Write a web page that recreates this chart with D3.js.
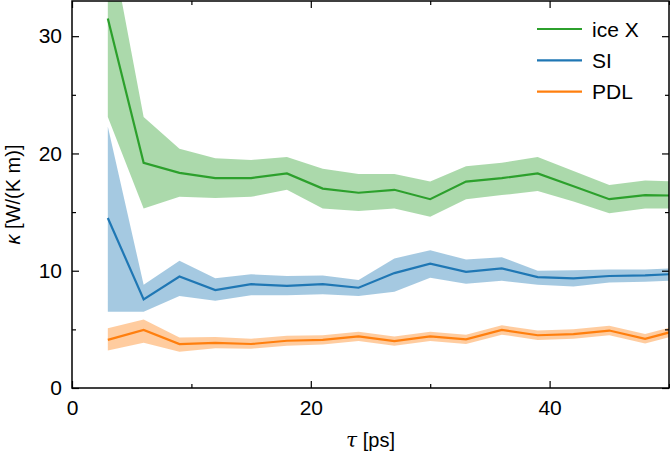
<!DOCTYPE html>
<html>
<head>
<meta charset="utf-8">
<script src="https://cdn.jsdelivr.net/npm/d3@7"></script>
<style>
  body { margin: 0; background: white; }
  text { font-family: "Liberation Sans", Arial, sans-serif; }
</style>
</head>
<body>
<div class="canvas"></div>
<script>
// Data
const tau = [3, 6, 9, 12, 15, 18, 21, 24, 27, 30, 33, 36, 39, 42, 45, 48, 51];

const iceX_mean  = [31.5, 19.2, 18.35, 17.9, 17.9, 18.3, 17.0, 16.65, 16.9, 16.1, 17.6, 17.9, 18.3, 17.2, 16.1, 16.45, 16.4];
const iceX_upper = [39.3, 23.1, 20.4, 19.6, 19.45, 19.7, 18.7, 18.25, 18.25, 17.6, 18.9, 19.2, 19.7, 18.5, 17.3, 17.7, 17.6];
const iceX_lower = [23.1, 15.3, 16.3, 16.2, 16.3, 16.9, 15.3, 15.1, 15.3, 14.6, 16.1, 16.45, 16.8, 15.9, 14.9, 15.3, 15.3];

const SI_mean  = [14.5, 7.55, 9.5, 8.35, 8.85, 8.7, 8.85, 8.55, 9.8, 10.6, 9.9, 10.2, 9.45, 9.35, 9.55, 9.6, 9.75];
const SI_upper = [22.3, 8.8, 10.85, 9.35, 9.7, 9.55, 9.6, 9.2, 11.05, 11.75, 10.95, 11.15, 10.0, 10.05, 10.1, 10.1, 10.25];
const SI_lower = [6.5, 6.5, 7.85, 7.45, 7.9, 7.9, 8.0, 7.85, 8.2, 9.4, 8.9, 9.15, 8.8, 8.65, 9.0, 9.05, 9.2];

const PDL_mean  = [4.1, 4.95, 3.75, 3.85, 3.75, 4.03, 4.1, 4.4, 4.0, 4.4, 4.15, 4.95, 4.5, 4.6, 4.9, 4.2, 5.0];
const PDL_upper = [5.1, 5.85, 4.3, 4.35, 4.2, 4.45, 4.5, 4.8, 4.4, 4.8, 4.55, 5.35, 4.9, 5.0, 5.3, 4.6, 5.4];
const PDL_lower = [3.2, 3.85, 3.1, 3.4, 3.35, 3.6, 3.7, 4.0, 3.6, 4.0, 3.75, 4.55, 4.1, 4.2, 4.5, 3.8, 4.6];

const series_names = ["ice X", "SI", "PDL"];
const series_colors = ["#2ca02c", "#1f77b4", "#ff7f0e"];

const x_major = [0, 20, 40];
const x_minor = [10, 30, 50];
const y_major = [0, 10, 20, 30];
const y_minor = [5, 15, 25];

// Settings
const width = 670;
const height = 455;
const margin = {left: 72, right: 1, top: 1, bottom: 67};
const font_size = 21;

const series = [
  {name: series_names[0], color: series_colors[0], mean: iceX_mean, upper: iceX_upper, lower: iceX_lower},
  {name: series_names[1], color: series_colors[1], mean: SI_mean, upper: SI_upper, lower: SI_lower},
  {name: series_names[2], color: series_colors[2], mean: PDL_mean, upper: PDL_upper, lower: PDL_lower}
];

const svg = d3.select(".canvas").append("svg")
  .attr("width", width)
  .attr("height", height);

var xScale = d3.scaleLinear().domain([0, 50]).range([margin.left, width - margin.right]);
var yScale = d3.scaleLinear().domain([0, 33]).range([height - margin.bottom, margin.top]);

svg.append("defs").append("clipPath")
  .attr("id", "plot-clip")
  .append("rect")
  .attr("x", xScale(0))
  .attr("y", yScale(33))
  .attr("width", xScale(50) - xScale(0))
  .attr("height", yScale(0) - yScale(33));

var g = svg.append("g").attr("clip-path", "url(#plot-clip)");

var areaGen = d3.area()
  .x(d => xScale(d.t))
  .y0(d => yScale(d.lo))
  .y1(d => yScale(d.hi));

var lineGen = d3.line()
  .x(d => xScale(d.t))
  .y(d => yScale(d.v));

series.forEach(function(s) {
  var pts = tau.map((t, i) => ({t: t, v: s.mean[i], lo: s.lower[i], hi: s.upper[i]}));
  g.append("path")
    .attr("d", areaGen(pts))
    .attr("fill", s.color)
    .attr("opacity", 0.4)
    .attr("stroke", "none");
  g.append("path")
    .attr("d", lineGen(pts))
    .attr("fill", "none")
    .attr("stroke", s.color)
    .attr("stroke-width", 2.2);
});

// Axes with inward ticks on all four sides
const major_len = 7;
const minor_len = 4;
const x0 = xScale.range()[0], x1 = xScale.range()[1];
const y0 = yScale.range()[0], y1 = yScale.range()[1];

svg.append("g")
  .attr("transform", "translate(0," + y0 + ")")
  .call(d3.axisBottom(xScale).tickValues(x_major).tickSize(-major_len).tickPadding(12).tickFormat(d3.format("d")))
  .call(a => a.select(".domain").remove());
svg.append("g")
  .attr("transform", "translate(0," + y0 + ")")
  .call(d3.axisBottom(xScale).tickValues(x_minor).tickSize(-minor_len).tickFormat(""))
  .call(a => a.select(".domain").remove());
svg.append("g")
  .attr("transform", "translate(0," + y1 + ")")
  .call(d3.axisTop(xScale).tickValues(x_major).tickSize(-major_len).tickFormat(""))
  .call(a => a.select(".domain").remove());
svg.append("g")
  .attr("transform", "translate(0," + y1 + ")")
  .call(d3.axisTop(xScale).tickValues(x_minor).tickSize(-minor_len).tickFormat(""))
  .call(a => a.select(".domain").remove());

svg.append("g")
  .attr("transform", "translate(" + x0 + ",0)")
  .call(d3.axisLeft(yScale).tickValues(y_major).tickSize(-major_len).tickPadding(10).tickFormat(d3.format("d")))
  .call(a => a.select(".domain").remove());
svg.append("g")
  .attr("transform", "translate(" + x0 + ",0)")
  .call(d3.axisLeft(yScale).tickValues(y_minor).tickSize(-minor_len).tickFormat(""))
  .call(a => a.select(".domain").remove());
svg.append("g")
  .attr("transform", "translate(" + x1 + ",0)")
  .call(d3.axisRight(yScale).tickValues(y_major).tickSize(-major_len).tickFormat(""))
  .call(a => a.select(".domain").remove());
svg.append("g")
  .attr("transform", "translate(" + x1 + ",0)")
  .call(d3.axisRight(yScale).tickValues(y_minor).tickSize(-minor_len).tickFormat(""))
  .call(a => a.select(".domain").remove());

svg.selectAll(".tick text")
  .attr("font-size", font_size + "px")
  .attr("font-family", "Liberation Sans, Arial, sans-serif")
  .attr("fill", "black");
svg.selectAll(".tick line").attr("stroke", "black").attr("stroke-width", 1.2);

// Frame
svg.append("rect")
  .attr("x", x0)
  .attr("y", y1)
  .attr("width", x1 - x0)
  .attr("height", y0 - y1)
  .attr("fill", "none")
  .attr("stroke", "black")
  .attr("stroke-width", 1.5);

// Axis labels
svg.append("text")
  .attr("x", xScale(25))
  .attr("y", 447)
  .attr("text-anchor", "middle")
  .attr("font-size", "20px")
  .html('<tspan font-family="DejaVu Serif" font-style="italic">τ</tspan> [ps]');

svg.append("text")
  .attr("transform", "translate(20," + yScale(16.5) + ") rotate(-90)")
  .attr("text-anchor", "middle")
  .attr("font-size", "20px")
  .html('<tspan font-style="italic">κ</tspan> [W/(K m)]');

// Legend
var legend = svg.append("g");
series.forEach(function(s, i) {
  var ly = 29 + i * 31.3;
  legend.append("line")
    .attr("x1", 537).attr("x2", 582)
    .attr("y1", ly).attr("y2", ly)
    .attr("stroke", s.color)
    .attr("stroke-width", 2.2);
  legend.append("text")
    .attr("x", 592)
    .attr("y", ly + 7.5)
    .attr("font-size", font_size + "px")
    .text(s.name);
});
</script>
</body>
</html>
